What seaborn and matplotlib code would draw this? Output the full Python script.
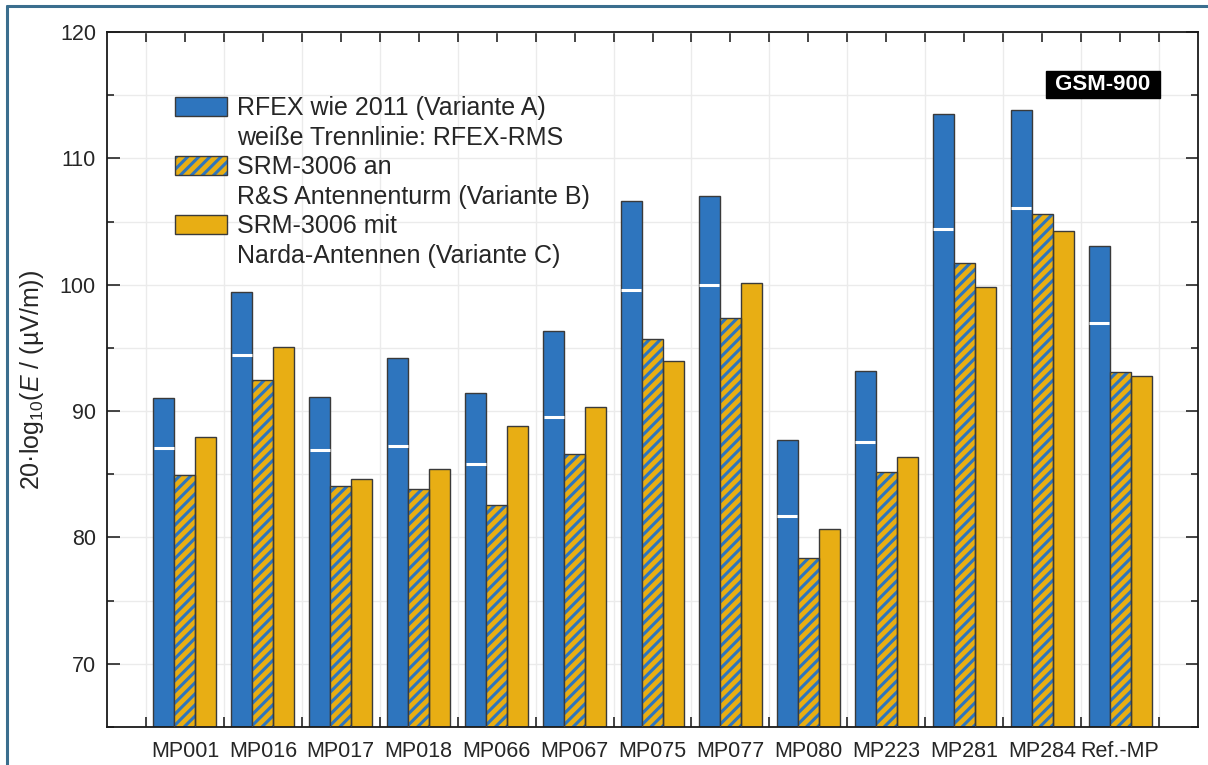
import numpy as np
import pandas as pd
import matplotlib
import matplotlib.pyplot as plt
import seaborn as sns
from matplotlib.patches import Patch
from matplotlib.legend_handler import HandlerTuple
from matplotlib.lines import Line2D
from matplotlib.ticker import MultipleLocator, FixedLocator

messpunkte = ['MP001', 'MP016', 'MP017', 'MP018', 'MP066', 'MP067', 'MP075',
              'MP077', 'MP080', 'MP223', 'MP281', 'MP284', 'Ref.-MP']
rfex = [91.0, 99.45, 91.1, 94.2, 91.4, 96.3, 106.6, 107.0, 87.75, 93.2, 113.55, 113.85, 103.05]
rfex_rms = [87.1, 94.45, 86.9, 87.2, 85.8, 89.55, 99.55, 99.95, 81.7, 87.55, 104.4, 106.05, 96.95]
srm_b = [84.95, 92.5, 84.1, 83.8, 82.55, 86.6, 95.7, 97.35, 78.4, 85.2, 101.7, 105.6, 93.1]
srm_c = [87.95, 95.05, 84.6, 85.45, 88.8, 90.3, 94.0, 100.1, 80.7, 86.35, 99.85, 104.25, 92.8]
varianten = ['A', 'B', 'C']

blau = '#2E75BE'
gelb = '#E8AE14'
kante = '#3a3a3a'

df = pd.DataFrame({
    'MP': messpunkte * 3,
    'Variante': ['A'] * 13 + ['B'] * 13 + ['C'] * 13,
    'Wert': rfex + srm_b + srm_c,
})

sns.set_style('white')
plt.rcParams['font.family'] = ['Liberation Sans', 'DejaVu Sans']
plt.rcParams['mathtext.fontset'] = 'custom'
plt.rcParams['mathtext.rm'] = 'Liberation Sans'
plt.rcParams['mathtext.it'] = 'Liberation Sans:italic'
plt.rcParams['hatch.linewidth'] = 2.2

fig = plt.figure(figsize=(12.08, 7.65), dpi=100)
ax = fig.add_axes([107 / 1208, 1 - 727 / 765, (1198 - 107) / 1208, (727 - 32) / 765])

sns.barplot(data=df, x='MP', y='Wert', hue='Variante', hue_order=varianten,
            palette=[blau, gelb, gelb], saturation=1, width=0.81, gap=0, ax=ax,
            edgecolor=kante, linewidth=1.0, legend=False, zorder=2)

# Variante B: gelb mit blauer Schraffur, Umriss extra
for p in ax.containers[1]:
    p.set_facecolor(gelb)
    p.set_edgecolor(blau)
    p.set_hatch('///')
    p.set_linewidth(0)
    ax.add_patch(plt.Rectangle(p.get_xy(), p.get_width(), p.get_height(),
                               fill=False, edgecolor=kante, linewidth=1.0, zorder=3))

# weiße Trennlinie RFEX-RMS
for p, v in zip(ax.containers[0], rfex_rms):
    ax.hlines(v, p.get_x() + 0.5 / 78, p.get_x() + p.get_width() - 0.5 / 78,
              color='white', linewidth=2.2, zorder=4)

ax.set_xlim(-1, 13)
ax.set_ylim(65, 120)
ax.set_xlabel('')
ax.set_ylabel(r'20·log$_{10}$($\mathit{E}$ / (µV/m))', fontsize=18, labelpad=10)

ax.yaxis.set_major_locator(MultipleLocator(10))
ax.yaxis.set_minor_locator(MultipleLocator(5))
ax.xaxis.set_minor_locator(FixedLocator(np.arange(-0.5, 13, 1)))
ax.tick_params(axis='y', which='major', direction='in', length=9, width=1.2,
               left=True, right=True, labelsize=15.5, pad=8)
ax.tick_params(axis='y', which='minor', direction='in', length=5, width=1.2,
               left=True, right=True)
ax.tick_params(axis='x', which='major', direction='in', length=7, width=1.2,
               bottom=False, top=True, labelsize=15.5, pad=10)
ax.tick_params(axis='x', which='minor', direction='in', length=7, width=1.2,
               bottom=True, top=True)

ax.grid(True, which='both', axis='y', color='#ebebeb', linewidth=1.0, zorder=0)
ax.grid(True, which='minor', axis='x', color='#ebebeb', linewidth=1.0, zorder=0)
ax.set_axisbelow(True)
for s in ax.spines.values():
    s.set_color('#1a1a1a')
    s.set_linewidth(1.3)

leer = Patch(facecolor='none', edgecolor='none')
h_a = Patch(facecolor=blau, edgecolor=kante, linewidth=1.0)
h_b = (Patch(facecolor=gelb, edgecolor=blau, hatch='///', linewidth=0),
       Patch(facecolor='none', edgecolor=kante, linewidth=1.0))
h_c = Patch(facecolor=gelb, edgecolor=kante, linewidth=1.0)
ax.legend([h_a, leer, h_b, leer, h_c, leer],
          ['RFEX wie 2011 (Variante A)', 'weiße Trennlinie: RFEX-RMS',
           'SRM-3006 an', 'R&S Antennenturm (Variante B)',
           'SRM-3006 mit', 'Narda-Antennen (Variante C)'],
          handler_map={tuple: HandlerTuple(ndivide=1)},
          loc='upper left', bbox_to_anchor=(0.053, 0.922), frameon=False,
          fontsize=18, handlelength=2.1, handleheight=0.8,
          handletextpad=0.4, labelspacing=0.22, borderaxespad=0)

ax.text(0.9125, 0.9245, ' GSM-900 ', transform=ax.transAxes, ha='center', va='center',
        fontsize=16, fontweight='bold', color='white',
        bbox=dict(boxstyle='square,pad=0.15', facecolor='black', edgecolor='black'))

# Rahmen links und oben
rand = '#3B6E8E'
fig.add_artist(Line2D([7 / 1208, 7 / 1208], [0, 1 - 6 / 765], color=rand,
                      linewidth=2.2, transform=fig.transFigure))
fig.add_artist(Line2D([7 / 1208, 1], [1 - 6 / 765, 1 - 6 / 765], color=rand,
                      linewidth=2.2, transform=fig.transFigure))

fig.savefig('out.png', dpi=100)
plt.close(fig)
